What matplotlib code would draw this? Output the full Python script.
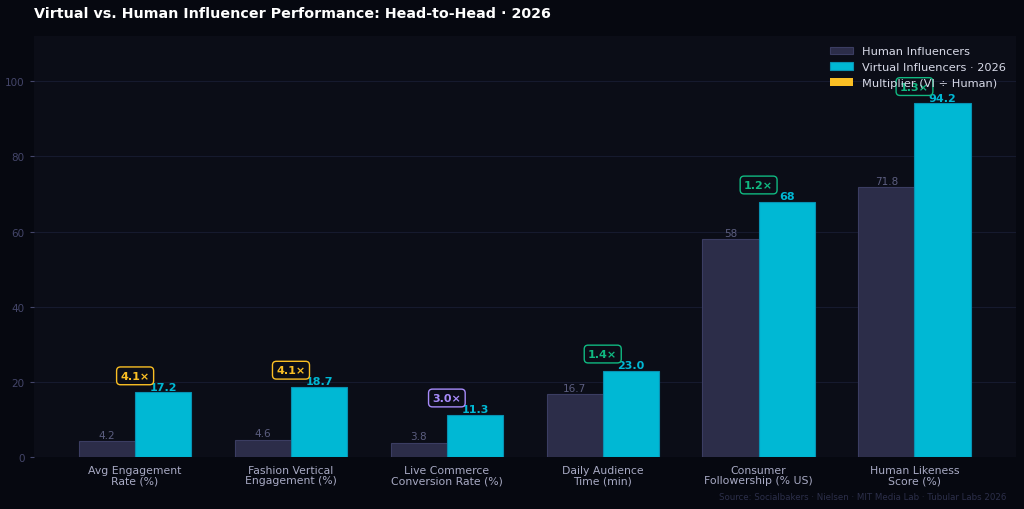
import matplotlib.pyplot as plt
import numpy as np

categories = ["Avg Engagement\nRate (%)", "Fashion Vertical\nEngagement (%)",
              "Live Commerce\nConversion Rate (%)", "Daily Audience\nTime (min)",
              "Consumer\nFollowership (% US)", "Human Likeness\nScore (%)"]
human = [4.2, 4.6, 3.8, 16.7, 58, 71.8]
virtual = [17.2, 18.7, 11.3, 23.0, 68, 94.2]
virtual_labels = ["17.2", "18.7", "11.3", "23.0", "68", "94.2"]
human_labels = ["4.2", "4.6", "3.8", "16.7", "58", "71.8"]
multipliers = ["4.1×", "4.1×", "3.0×", "1.4×", "1.2×", "1.3×"]

FIG_BG = "#060810"
AX_BG = "#0b0d17"
HUMAN_C = "#2c2d49"
VIRT_C = "#00b8d4"
GOLD = "#fbbf24"
PURPLE = "#a78bfa"
GREEN = "#10b981"
mult_colors = [GOLD, GOLD, PURPLE, GREEN, GREEN, GREEN]

fig, ax = plt.subplots(figsize=(10.24, 5.1), dpi=100)
fig.patch.set_facecolor(FIG_BG)
ax.set_facecolor(AX_BG)
fig.subplots_adjust(left=0.033, right=0.992, top=0.927, bottom=0.102)

x = np.arange(len(categories))
w = 0.36
ax.bar(x - w / 2, human, w, color=HUMAN_C, edgecolor="#3b3d62", linewidth=0.8,
       label="Human Influencers", zorder=3)
ax.bar(x + w / 2, virtual, w, color=VIRT_C, edgecolor="#0891b2", linewidth=0.8,
       label="Virtual Influencers · 2026", zorder=3)
# dummy handle for multiplier legend entry
ax.bar([0], [0], 0, color=GOLD, label="Multiplier (VI ÷ Human)")

for i in range(len(categories)):
    ax.text(x[i] - w / 2, human[i] + 0.4, human_labels[i], ha="center", va="bottom",
            fontsize=7.5, color="#5c5e80", zorder=4)
    ax.text(x[i] + w / 2, virtual[i] + 0.1, virtual_labels[i], ha="center", va="bottom",
            fontsize=8, color=VIRT_C, fontweight="bold", zorder=4)
    ax.text(x[i], virtual[i] + 4.4, multipliers[i], ha="center", va="center",
            fontsize=8, color=mult_colors[i], fontweight="bold", zorder=5,
            bbox=dict(boxstyle="round,pad=0.35", facecolor=AX_BG,
                      edgecolor=mult_colors[i], linewidth=1))

ax.set_xlim(-0.65, 5.65)
ax.set_ylim(0, 112)
ax.set_yticks([0, 20, 40, 60, 80, 100])
ax.set_xticks(x)
ax.set_xticklabels(categories, fontsize=7.8, color="#a8aac4", linespacing=1.0)
ax.tick_params(axis="y", colors="#44466a", labelsize=7.5, length=3)
ax.tick_params(axis="x", length=0, pad=6)
ax.grid(axis="y", color="#161a2e", linewidth=0.8, zorder=0)
for s in ax.spines.values():
    s.set_visible(False)

leg = ax.legend(loc="upper right", fontsize=8.2, frameon=False, labelcolor="#d8dae8",
                handlelength=2.0, borderaxespad=0.5)
leg.set_zorder(10)

fig.text(0.033, 0.972, "Virtual vs. Human Influencer Performance: Head-to-Head · 2026",
         fontsize=10.3, fontweight="bold", color="white", va="center")
fig.text(0.983, 0.025, "Source: Socialbakers · Nielsen · MIT Media Lab · Tubular Labs 2026",
         fontsize=6.2, color="#2c2f4a", ha="right", va="center")

fig.savefig("out.png", dpi=100, facecolor=FIG_BG)
